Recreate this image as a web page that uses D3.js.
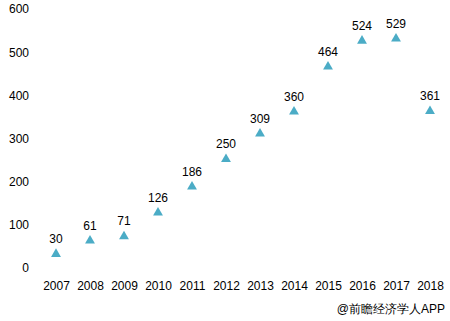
<!DOCTYPE html>
<html><head><meta charset="utf-8">
<script src="https://cdn.jsdelivr.net/npm/d3@7"></script>
<style>body{margin:0;background:#fff}svg{display:block}text{font-family:"Liberation Sans","Noto Sans",sans-serif}</style>
</head><body>
<script>
const years = ["2007","2008","2009","2010","2011","2012","2013","2014","2015","2016","2017","2018"];
const values = [30,61,71,126,186,250,309,360,464,524,529,361];
const yTicks = [0,100,200,300,400,500,600];
const source = "@前瞻经济学人APP";

const W=450,H=321;
const svg=d3.select("body").append("svg").attr("width",W).attr("height",H);
const x=d3.scalePoint().domain(years).range([56,430]);
const y=d3.scaleLinear().domain([0,600]).range([268,9]);

const yAxis=svg.append("g").attr("transform","translate(29,0)")
  .call(d3.axisLeft(y).tickValues(yTicks).tickSize(0).tickPadding(0));
yAxis.select(".domain").remove();
yAxis.selectAll("text").attr("font-size",12).attr("fill","#000").attr("font-family","Liberation Sans, sans-serif");

const xAxis=svg.append("g").attr("transform","translate(0,281)")
  .call(d3.axisBottom(x).tickSize(0).tickPadding(0));
xAxis.select(".domain").remove();
xAxis.selectAll("text").attr("font-size",12).attr("fill","#000").attr("dy","0.71em").attr("font-family","Liberation Sans, sans-serif");

const tri=d3.symbol().type(d3.symbolTriangle).size(42);
svg.selectAll("path.m").data(values).join("path").attr("class","m")
  .attr("d",tri).attr("fill","#4BACC6")
  .attr("transform",(d,i)=>`translate(${x(years[i])},${y(d)-1})`);
svg.selectAll("text.v").data(values).join("text").attr("class","v")
  .attr("x",(d,i)=>x(years[i])).attr("y",d=>y(d)-12)
  .attr("text-anchor","middle").attr("font-size",12).attr("fill","#000").text(d=>d);

svg.append("text").attr("x",445).attr("y",313).attr("text-anchor","end")
  .attr("font-size",12).attr("fill","#000").attr("font-family","Noto Sans CJK SC, sans-serif").text(source);
</script>
</body></html>
